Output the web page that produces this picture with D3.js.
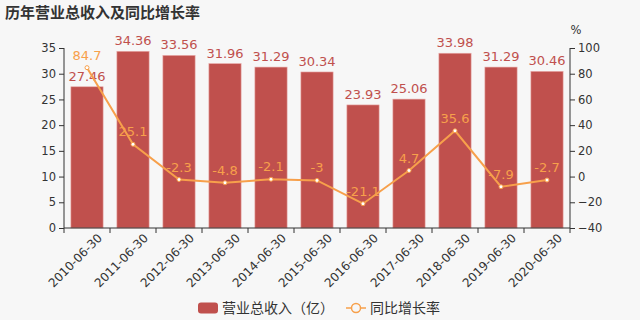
<!DOCTYPE html>
<html>
<head>
<meta charset="utf-8">
<script src="https://cdn.jsdelivr.net/npm/d3@7/dist/d3.min.js"></script>
<style>
body { margin: 0; background: #f7f7f7; }
text { font-family: "DejaVu Sans", "Noto Sans CJK SC", sans-serif; }
.cjk { font-family: "Noto Sans CJK SC", sans-serif; }
</style>
</head>
<body>
<svg id="chart" width="640" height="320"></svg>
<script>
const margin = { top: 48, right: 70, bottom: 92, left: 64 };
const width = 640 - margin.left - margin.right;
const height = 320 - margin.top - margin.bottom;

// data
var dates = ['2010-06-30', '2011-06-30', '2012-06-30', '2013-06-30', '2014-06-30', '2015-06-30',
    '2016-06-30', '2017-06-30', '2018-06-30', '2019-06-30', '2020-06-30']
var revenue = [27.46, 34.36, 33.56, 31.96, 31.29, 30.34, 23.93, 25.06, 33.98, 31.29, 30.46]
var growth = [84.7, 25.1, -2.3, -4.8, -2.1, -3, -21.1, 4.7, 35.6, -7.9, -2.7]
var leftTicks = [0, 5, 10, 15, 20, 25, 30, 35]
var rightTicks = [-40, -20, 0, 20, 40, 60, 80, 100]

var barColor = '#c0504d'
var lineColor = '#f7a04b'

var svg = d3.select('#chart')

svg.append('text')
    .attr('class', 'cjk')
    .attr('x', 5).attr('y', 18)
    .attr('fill', '#333')
    .style('font-size', '15px')
    .style('font-weight', 'bold')
    .text('历年营业总收入及同比增长率')

var g = svg.append('g')
    .attr('transform', 'translate(' + margin.left + ',' + margin.top + ')')

var xScale = d3.scaleBand().domain(dates).range([0, width]).paddingInner(0.3).paddingOuter(0.15)
var yLeft = d3.scaleLinear().domain([0, 35]).range([height, 0])
var yRight = d3.scaleLinear().domain([-40, 100]).range([height, 0])

// bars
g.selectAll('rect.bar')
    .data(revenue)
    .join('rect')
    .attr('class', 'bar')
    .attr('x', (d, i) => xScale(dates[i]))
    .attr('y', d => yLeft(d))
    .attr('width', xScale.bandwidth())
    .attr('height', d => height - yLeft(d))
    .attr('fill', barColor)
    .attr('stroke', '#e8a9a7')
    .attr('stroke-width', 0.6)

g.selectAll('text.barlabel')
    .data(revenue)
    .join('text')
    .attr('class', 'barlabel')
    .attr('x', (d, i) => xScale(dates[i]) + xScale.bandwidth() / 2)
    .attr('y', d => yLeft(d) - 6)
    .attr('text-anchor', 'middle')
    .attr('fill', barColor)
    .style('font-size', '13px')
    .text(d => d)

// line
var line = d3.line()
    .x((d, i) => xScale(dates[i]) + xScale.bandwidth() / 2)
    .y(d => yRight(d))

g.append('path')
    .datum(growth)
    .attr('d', line)
    .attr('fill', 'none')
    .attr('stroke', lineColor)
    .attr('stroke-width', 2)

g.selectAll('circle.pt')
    .data(growth)
    .join('circle')
    .attr('class', 'pt')
    .attr('cx', (d, i) => xScale(dates[i]) + xScale.bandwidth() / 2)
    .attr('cy', d => yRight(d))
    .attr('r', 2)
    .attr('fill', '#fff')
    .attr('stroke', lineColor)
    .attr('stroke-width', 1)

g.selectAll('text.linelabel')
    .data(growth)
    .join('text')
    .attr('class', 'linelabel')
    .attr('x', (d, i) => xScale(dates[i]) + xScale.bandwidth() / 2)
    .attr('y', d => yRight(d) - 8)
    .attr('text-anchor', 'middle')
    .attr('fill', lineColor)
    .style('font-size', '13px')
    .text(d => d)

// axes
var xAxis = d3.axisBottom(xScale).tickSize(5).tickFormat(d => d)
var xg = g.append('g')
    .attr('transform', 'translate(0,' + height + ')')
    .call(xAxis)
xg.selectAll('.tick line').attr('transform', function (d) { return 'translate(' + (-xScale.step() / 2) + ',0)' })
xg.append('line').attr('x1', width).attr('x2', width).attr('y1', 0).attr('y2', 5).attr('stroke', '#333')
xg.selectAll('.tick text')
    .attr('text-anchor', 'end')
    .attr('dx', '0.3em')
    .attr('dy', '0.9em')
    .attr('transform', 'rotate(-45)')
    .attr('fill', '#333')
    .style('font-size', '12px')

var yl = g.append('g').call(d3.axisLeft(yLeft).tickValues(leftTicks).tickSize(5))
var yr = g.append('g').attr('transform', 'translate(' + width + ',0)')
    .call(d3.axisRight(yRight).tickValues(rightTicks).tickSize(5))
;[xg, yl, yr].forEach(a => a.selectAll('path, line').attr('stroke', '#333'))
yl.selectAll('.tick text').attr('fill', '#333').style('font-size', '11.5px')
yr.selectAll('.tick text').attr('fill', '#333').style('font-size', '11.5px')
yl.select('.domain').attr('d', 'M0,0V' + height)
yr.select('.domain').attr('d', 'M0,0V' + height)
xg.select('.domain').attr('d', 'M0,0H' + width)

g.append('text')
    .attr('x', width + 6).attr('y', -14)
    .attr('text-anchor', 'middle')
    .attr('fill', '#333')
    .style('font-size', '11.5px')
    .text('%')

// legend
var lg = svg.append('g').attr('transform', 'translate(198,308)')
lg.append('rect').attr('x', 0).attr('y', -5.5).attr('width', 20).attr('height', 11).attr('rx', 3)
    .attr('fill', barColor)
lg.append('text').attr('class', 'cjk').attr('x', 24).attr('y', 0).attr('dy', '0.35em')
    .attr('fill', '#333').style('font-size', '14px').text('营业总收入（亿）')
lg.append('line').attr('x1', 148).attr('x2', 168).attr('y1', 0).attr('y2', 0)
    .attr('stroke', lineColor).attr('stroke-width', 1.5)
lg.append('circle').attr('cx', 158).attr('cy', 0).attr('r', 4.5)
    .attr('fill', '#f7f7f7').attr('stroke', lineColor).attr('stroke-width', 1.5)
lg.append('text').attr('class', 'cjk').attr('x', 172).attr('y', 0).attr('dy', '0.35em')
    .attr('fill', '#333').style('font-size', '14px').text('同比增长率')
</script>
</body>
</html>
